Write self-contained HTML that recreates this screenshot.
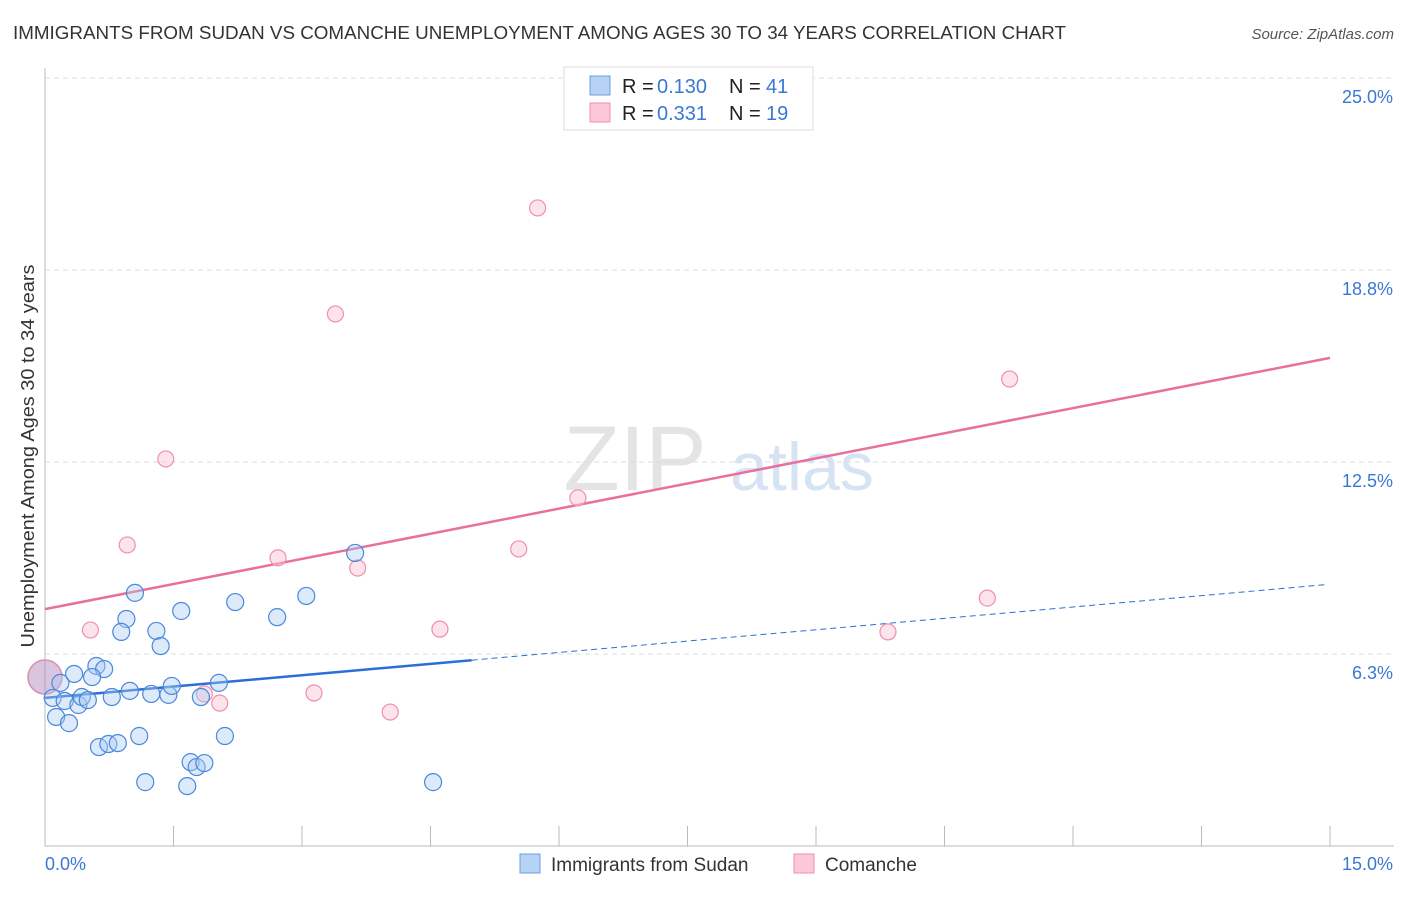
<!DOCTYPE html>
<html><head><meta charset="utf-8"><style>
body{margin:0;background:#fff;font-family:"Liberation Sans",sans-serif;}
svg text{font-family:"Liberation Sans",sans-serif;}
</style></head><body>
<svg id="chart" width="1406" height="892" viewBox="0 0 1406 892" xmlns="http://www.w3.org/2000/svg">
<text x="13" y="39" font-size="18" fill="#333" textLength="1053" lengthAdjust="spacingAndGlyphs">IMMIGRANTS FROM SUDAN VS COMANCHE UNEMPLOYMENT AMONG AGES 30 TO 34 YEARS CORRELATION CHART</text>
<text x="1394" y="39" font-size="15" fill="#555" text-anchor="end" font-style="italic">Source: ZipAtlas.com</text>
<g>
<text x="635" y="490" font-size="92" fill="#e4e4e4" text-anchor="middle" font-family="Liberation Serif">ZIP</text>
<text x="802" y="490" font-size="68" fill="#d5e3f3" text-anchor="middle">atlas</text>
</g>
<g id="grid"></g>
<g id="axes"></g>
<g id="lines"></g>
<g id="points"></g>
<g>
<rect x="564" y="67" width="249" height="63" fill="#fff" stroke="#ddd"/>
<rect x="590" y="76" width="20" height="19" fill="#b6d2f5" stroke="#6d9fe0"/>
<rect x="590" y="103" width="20" height="19" fill="#fcc7d7" stroke="#ee8fae"/>
<text x="622" y="93" font-size="20" fill="#222">R = </text>
<text x="657" y="93" font-size="20" fill="#3a78d4">0.130</text>
<text x="729" y="93" font-size="20" fill="#222">N = </text>
<text x="766" y="93" font-size="20" fill="#3a78d4">41</text>
<text x="622" y="120" font-size="20" fill="#222">R = </text>
<text x="657" y="120" font-size="20" fill="#3a78d4">0.331</text>
<text x="729" y="120" font-size="20" fill="#222">N = </text>
<text x="766" y="120" font-size="20" fill="#3a78d4">19</text>
</g>
<g>
<rect x="520" y="854" width="20" height="19" fill="#b6d2f5" stroke="#6d9fe0"/>
<text x="551" y="871" font-size="19" fill="#333">Immigrants from Sudan</text>
<rect x="794" y="854" width="20" height="19" fill="#fcc7d7" stroke="#ee8fae"/>
<text x="825" y="871" font-size="19" fill="#333">Comanche</text>
</g>
<text transform="translate(34,456) rotate(-90)" font-size="18" fill="#333" text-anchor="middle" textLength="383" lengthAdjust="spacingAndGlyphs">Unemployment Among Ages 30 to 34 years</text>
</svg>
<script>
const yTicks=[25,18.75,12.5,6.25];
const yTickLabels=["25.0%","18.8%","12.5%","6.3%"];
const xTicks=[0,1.5,3,4.5,6,7.5,9,10.5,12,13.5,15];
const xTickLabels=["0.0%","15.0%"];
const sudanX=[1.05,1.59,2.22,2.71,3.05,0.95,0.89,1.30,1.35,0.34,0.60,0.69,0.55,0.18,0.09,0.23,0.39,0.43,0.50,0.78,0.99,1.24,1.44,1.48,1.82,2.03,0.13,0.28,0.63,0.74,0.85,1.10,2.10,1.70,1.77,1.86,1.17,1.66,3.62,4.53];
const sudanY=[8.24,7.65,7.94,7.45,8.14,7.39,6.97,7.00,6.51,5.60,5.86,5.76,5.50,5.31,4.82,4.72,4.59,4.85,4.75,4.85,5.05,4.95,4.92,5.21,4.85,5.31,4.20,4.00,3.22,3.32,3.35,3.58,3.58,2.73,2.57,2.70,2.08,1.95,9.54,2.08];
const comX=[5.75,3.39,11.26,1.41,6.22,0.96,5.53,2.72,3.65,11.00,9.84,0.53,4.61,1.86,3.14,2.04,4.03,7.12];
const comY=[20.77,17.32,15.20,12.60,11.33,9.80,9.67,9.38,9.05,8.07,6.97,7.03,7.06,4.95,4.98,4.65,4.36,23.86];
const bigPoint=[0,5.5];
const comTrend=[7.71,15.89];
const sudanTrend=[4.82,8.52];
const sudanSolidEnd=4.98;

const NS="http://www.w3.org/2000/svg";
const X0=45,X1=1330,Y0=846,Ytop=78;
const sx=v=>X0+(X1-X0)*v/15;
const sy=v=>Y0-(Y0-Ytop)*v/25;
function mk(tag,attrs,parent){const e=document.createElementNS(NS,tag);for(const k in attrs)e.setAttribute(k,attrs[k]);document.getElementById(parent).appendChild(e);return e;}
yTicks.forEach((t,i)=>{
  const l=mk('line',{x1:X0,x2:1394,y1:sy(t),y2:sy(t),stroke:'#ddd','stroke-dasharray':'5,4'},'grid');
  
  
  const tx=mk('text',{x:1393,y:sy(t)+25,'font-size':18,fill:'#3a78d4','text-anchor':'end'},'grid');
  tx.textContent=yTickLabels[i];
  
  
});
let a=mk('line',{x1:X0,x2:X0,y1:68,y2:Y0,stroke:'#bbb'},'axes');


a=mk('line',{x1:X0,x2:1394,y1:Y0,y2:Y0,stroke:'#bbb'},'axes');


xTicks.forEach(t=>{
  const l=mk('line',{x1:sx(t),x2:sx(t),y1:826,y2:Y0,stroke:'#bbb'},'axes');
  
  
});
let t0=mk('text',{x:45,y:870,'font-size':18,fill:'#3a78d4'},'axes');t0.textContent=xTickLabels[0];


let t1=mk('text',{x:1393,y:870,'font-size':18,fill:'#3a78d4','text-anchor':'end'},'axes');t1.textContent=xTickLabels[1];



const sl=(v)=>sudanTrend[0]+(sudanTrend[1]-sudanTrend[0])*v/15;
let ln=mk('line',{x1:sx(0),y1:sy(comTrend[0]),x2:sx(15),y2:sy(comTrend[1]),stroke:'#e8709a','stroke-width':2.5},'lines');


ln=mk('line',{x1:sx(0),y1:sy(sl(0)),x2:sx(sudanSolidEnd),y2:sy(sl(sudanSolidEnd)),stroke:'#2a6fd6','stroke-width':2.5},'lines');


ln=mk('line',{x1:sx(sudanSolidEnd),y1:sy(sl(sudanSolidEnd)),x2:sx(14.95),y2:sy(sl(14.95)),stroke:'#2a6fd6','stroke-width':1,'stroke-dasharray':'6,4'},'lines');



let bp=mk('circle',{cx:sx(bigPoint[0]),cy:sy(bigPoint[1]),r:17,fill:'rgba(180,140,190,0.5)',stroke:'#d88fb0','stroke-width':1.5},'points');


comX.forEach((v,i)=>{
  const c=mk('circle',{cx:sx(v),cy:sy(comY[i]),r:8,fill:'rgba(252,199,215,0.5)',stroke:'#ee8fae','stroke-width':1.2},'points');
  
  
});
sudanX.forEach((v,i)=>{
  const c=mk('circle',{cx:sx(v),cy:sy(sudanY[i]),r:8.5,fill:'rgba(170,202,242,0.4)',stroke:'#4a88dc','stroke-width':1.2},'points');
  
  
});
</script>
</body></html>
